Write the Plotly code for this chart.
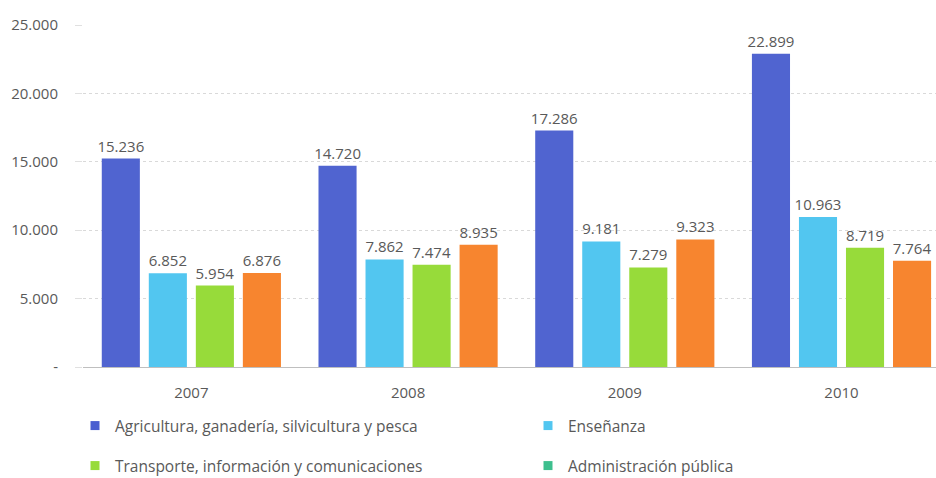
import plotly.graph_objects as go

years = ["2007", "2008", "2009", "2010"]
series_names = [
    "Agricultura, ganadería, silvicultura y pesca",
    "Enseñanza",
    "Transporte, información y comunicaciones",
    "Administración pública",
]
agricultura = [15236, 14720, 17286, 22899]
ensenanza = [6852, 7862, 9181, 10963]
transporte = [5954, 7474, 7279, 8719]
administracion = [6876, 8935, 9323, 7764]
values = [agricultura, ensenanza, transporte, administracion]

bar_colors = ["#5064D0", "#52C6F0", "#97DB3A", "#F7852F"]
legend_colors = ["#4A5ED0", "#52C6F0", "#97DB3A", "#3EBF8E"]

tick_vals = [0, 5000, 10000, 15000, 20000, 25000]
tick_text = ["-", "5.000", "10.000", "15.000", "20.000", "25.000"]

FONT = "Open Sans, Noto Sans, sans-serif"
GRAY = "#595959"
W, H = 936, 478

fig = go.Figure()
for name, vals, col in zip(series_names, values, bar_colors):
    fig.add_trace(go.Bar(
        x=years, y=vals, name=name, marker=dict(color=col, line=dict(width=0)),
        texttemplate="%{y:,.0f}", textposition="outside", constraintext="none",
        textfont=dict(color=GRAY, size=15, family=FONT),
        cliponaxis=False, showlegend=False,
    ))

legend_ids = ["legend", "legend2", "legend3", "legend4"]
# legend placement (pixels): left edge, vertical centre
legend_pos = [(75, 426), (528, 426), (75, 466), (528, 466)]

for name, col, lg in zip(series_names, legend_colors, legend_ids):
    fig.add_trace(go.Scatter(
        x=[None], y=[None], mode="markers", name=name, legend=lg,
        marker=dict(symbol="square", size=9, color=col),
    ))

layout_legends = {}
for lg, (px, py) in zip(legend_ids, legend_pos):
    layout_legends[lg] = dict(
        xref="container", yref="container",
        x=px / W, y=1 - py / H, xanchor="left", yanchor="middle",
        itemwidth=30, orientation="v",
        font=dict(color=GRAY, size=15.5, family=FONT),
        bgcolor="rgba(0,0,0,0)",
    )

fig.update_layout(
    width=W, height=H,
    margin=dict(l=83, r=0, t=25, b=H - 367, autoexpand=False),
    plot_bgcolor="white", paper_bgcolor="white",
    separators=",.",
    barmode="group", bargap=0.132, bargroupgap=0.19,
    font=dict(family=FONT, color=GRAY, size=15),
    xaxis=dict(
        range=[-0.5, 3.436], showgrid=False, showline=True, automargin=False,
        linecolor="#BFBFBF", linewidth=1, ticks="",
        ticklabelstandoff=12,
        tickfont=dict(color=GRAY, size=15, family=FONT),
    ),
    yaxis=dict(
        range=[0, 25000], tickvals=tick_vals, ticktext=tick_text, automargin=False,
        showgrid=True, gridcolor="#D9D9D9", griddash="dot", gridwidth=1,
        zeroline=False, ticks="outside", ticklen=7, tickcolor="#E0E0E0",
        ticklabelstandoff=14,
        tickfont=dict(color=GRAY, size=15, family=FONT),
    ),
    **layout_legends,
)

# remove the default page margin so the figure fills the window exactly
fig.write_html(
    "out.html",
    config={"displayModeBar": False},
    post_script="document.body.style.margin='0';document.body.style.overflow='hidden';",
)
